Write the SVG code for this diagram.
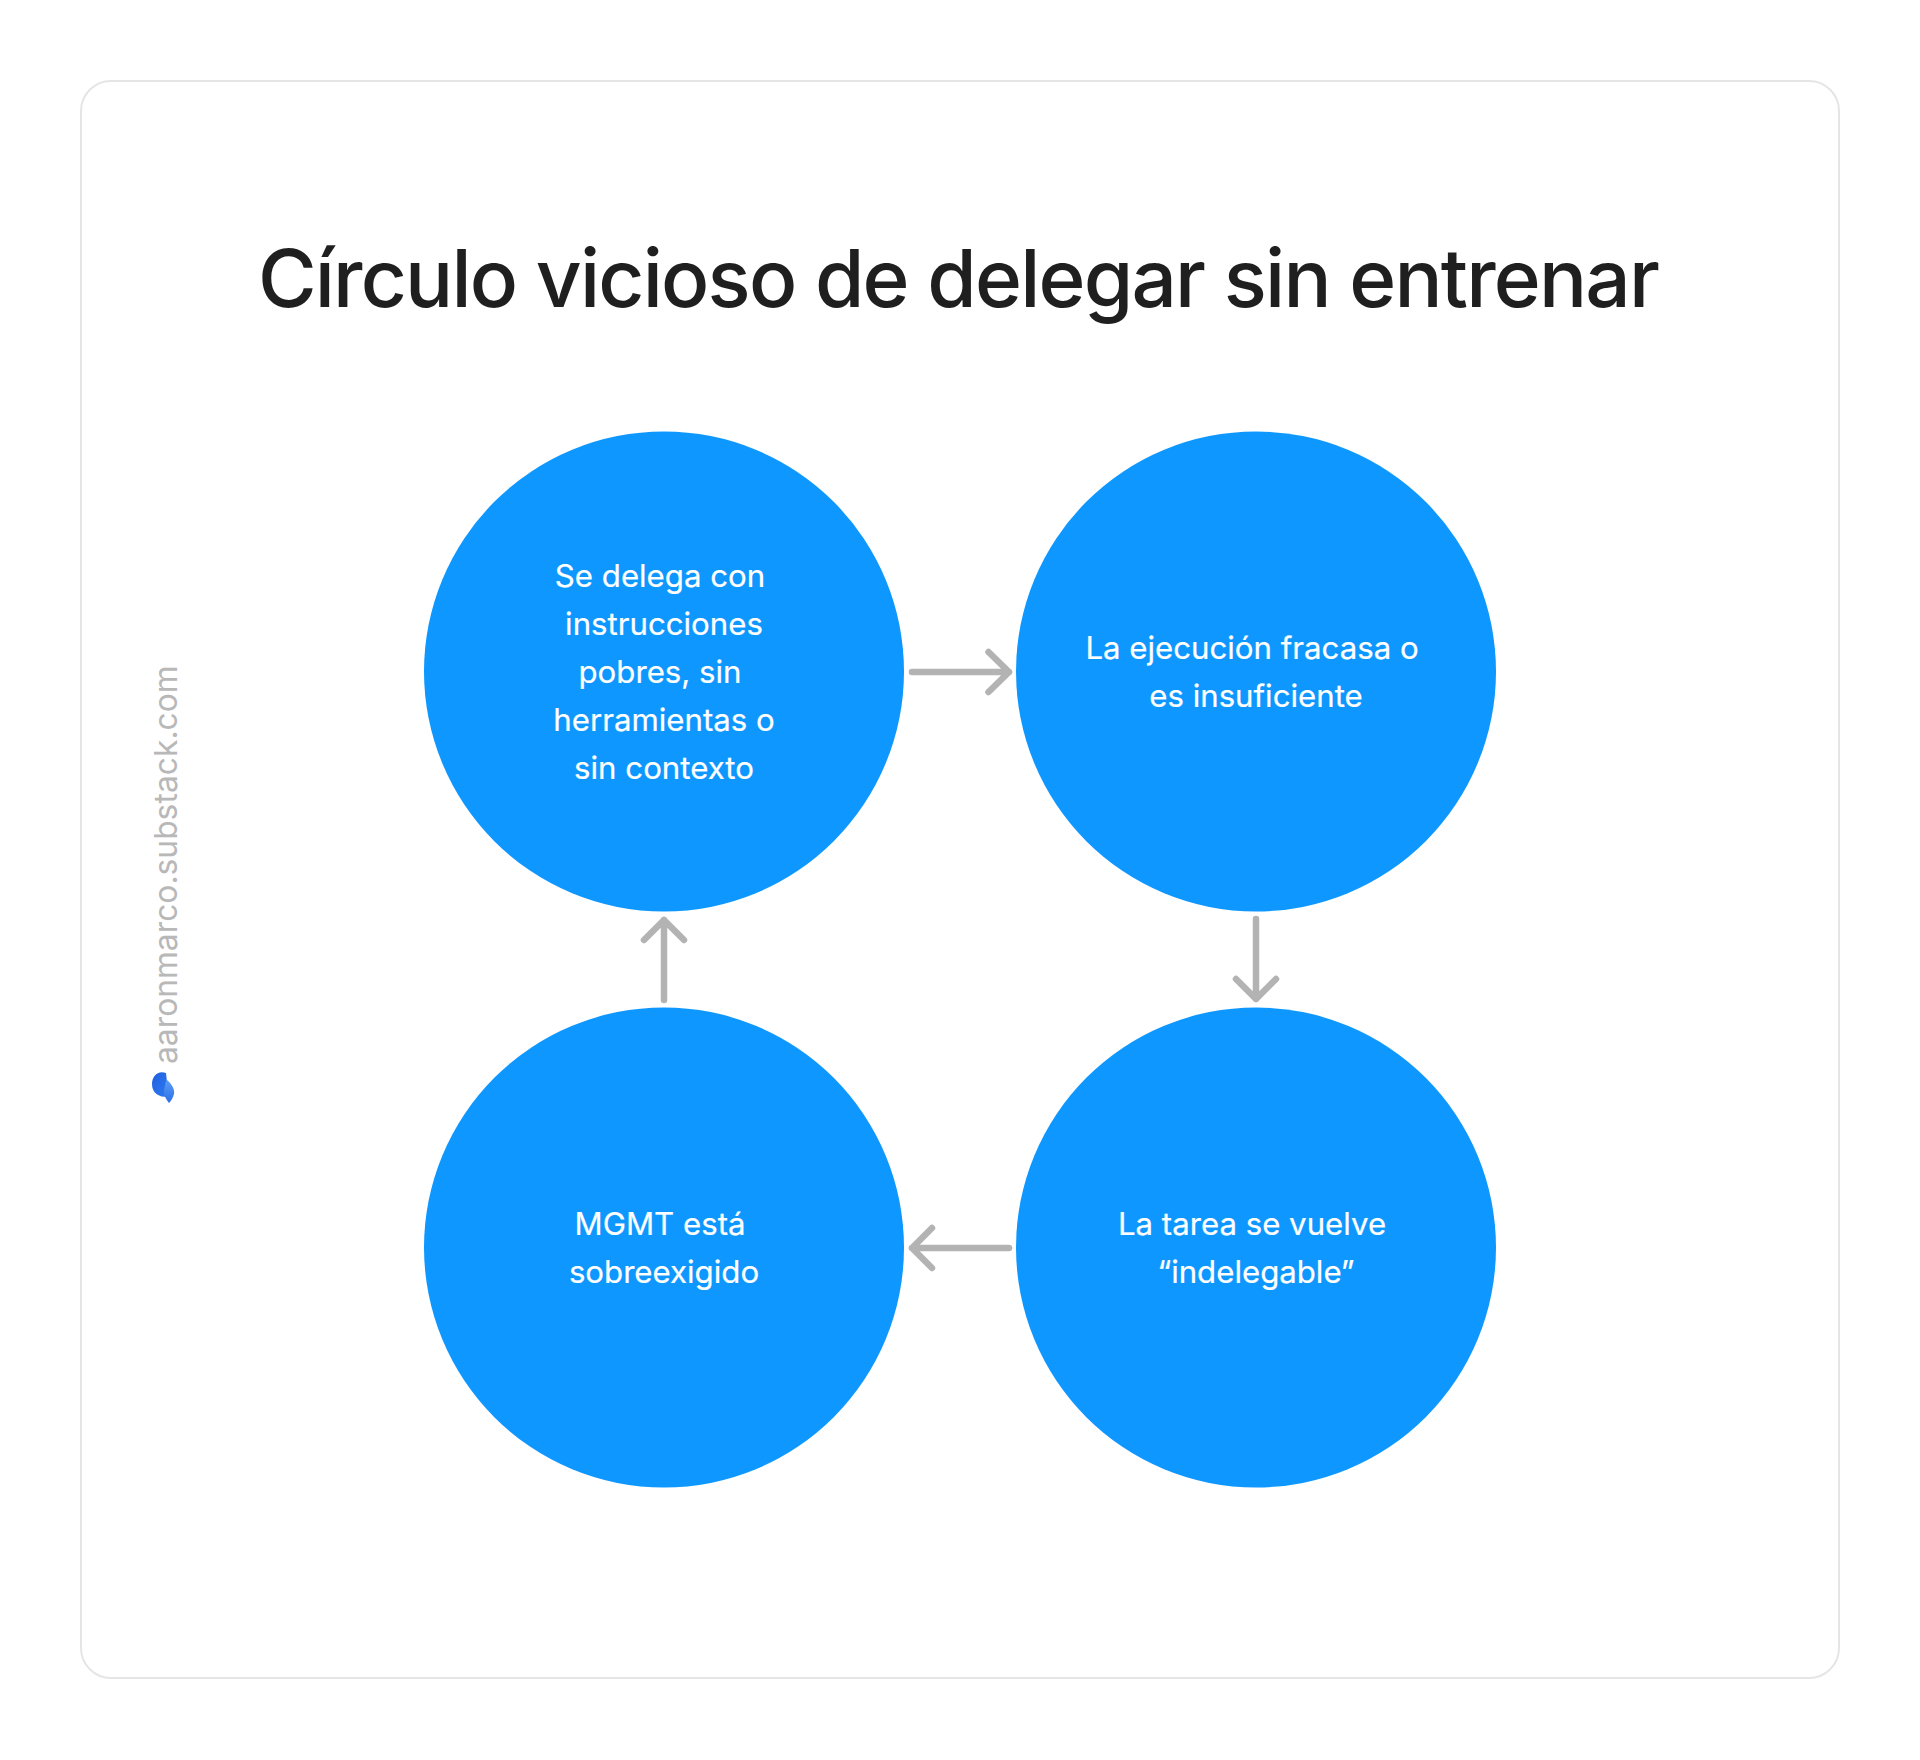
<svg xmlns="http://www.w3.org/2000/svg" width="1920" height="1760" viewBox="0 0 1920 1760">
<defs><linearGradient id="g" x1="0" y1="0" x2="1" y2="1"><stop offset="0" stop-color="#1f5fe0"/><stop offset="1" stop-color="#2f7df0"/></linearGradient><linearGradient id="h" x1="0" y1="0" x2="0" y2="1"><stop offset="0" stop-color="#5c9df5"/><stop offset="1" stop-color="#2a6fe8"/></linearGradient></defs>
<style>
.c{fill:#0e98ff}
.t{font-family:Inter,"Liberation Sans",sans-serif;font-size:31.2px;font-weight:400;fill:#fff;text-anchor:middle;stroke:#fff;stroke-width:0.2}
.a{fill:none;stroke:#b3b3b3;stroke-width:6.5;stroke-linecap:round;stroke-linejoin:round}
</style>
<rect width="1920" height="1760" fill="#fff"/>
<rect id="card" x="81" y="81" width="1758" height="1597" rx="30" fill="#fff" stroke="#e5e5e5" stroke-width="2"/>
<text id="title" x="958" y="307" font-family="Inter,'Liberation Sans',sans-serif" font-size="80" font-weight="480" letter-spacing="-1.8" fill="#1f1f1f" text-anchor="middle">Círculo vicioso de delegar sin entrenar</text>
<g id="n1"><circle class="c" cx="664" cy="671.500" r="240"/><text class="t"><tspan x="660" y="587">Se delega con</tspan><tspan x="664" y="635">instrucciones</tspan><tspan x="660" y="683">pobres, sin</tspan><tspan x="664" y="731">herramientas o</tspan><tspan x="664" y="779">sin contexto</tspan></text></g>
<g id="n2"><circle class="c" cx="1256" cy="671.500" r="240"/><text class="t"><tspan x="1252" y="659">La ejecución fracasa o</tspan><tspan x="1256" y="707">es insuficiente</tspan></text></g>
<g id="n3"><circle class="c" cx="1256" cy="1247.500" r="240"/><text class="t"><tspan x="1252" y="1235">La tarea se vuelve</tspan><tspan x="1256" y="1283">“indelegable”</tspan></text></g>
<g id="n4"><circle class="c" cx="664" cy="1247.500" r="240"/><text class="t"><tspan x="660" y="1235">MGMT está</tspan><tspan x="664" y="1283">sobreexigido</tspan></text></g>
<g id="connectors">
<path class="a" d="M912 672H1009M988.500 652L1009 672L988.500 692"/>
<path class="a" d="M1256 919V999M1236 979L1256 999L1276 979"/>
<path class="a" d="M1009 1248H912M932 1228L912 1248L932 1268"/>
<path class="a" d="M664 1000V920M644 940L664 920L684 940"/>
</g>
<g id="watermark">
<text transform="translate(177 1064) rotate(-90)" font-family="Inter,'Liberation Sans',sans-serif" font-size="31.8" fill="#b8b8b8">aaronmarco.substack.com</text>
<path d="M166 1073C158 1070 152 1076 152 1084C152 1094 160 1097 167 1097C172 1092 170 1084 167 1082Z" fill="url(#g)"/>
<path d="M167 1080C172 1084 175 1090 174 1094C173 1098 171 1101 169 1103C166 1099 162 1094 165 1086C165 1083 166 1081 167 1080Z" fill="url(#h)"/>
</g>
</svg>
